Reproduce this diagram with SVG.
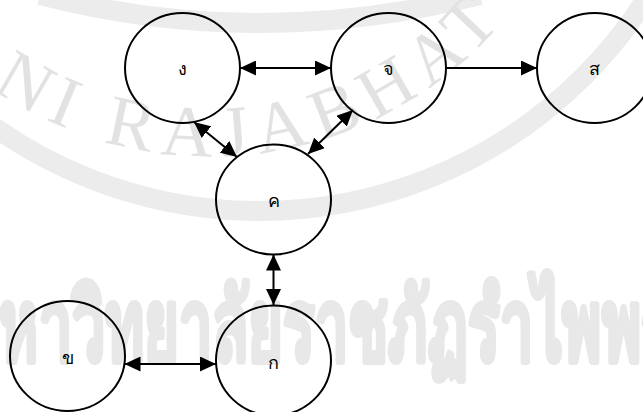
<svg xmlns="http://www.w3.org/2000/svg" width="643" height="412" viewBox="0 0 643 412">
  <style>
    .node { fill: none; stroke: #000; stroke-width: 2; }
    .lbl { font-family: "Noto Sans", "DejaVu Sans", sans-serif; font-size: 18px; fill: #000; text-anchor: middle; dominant-baseline: central; }
    .edge { stroke: #000; stroke-width: 2; fill: none; }
    .wm-band { fill: none; stroke: #ececec; stroke-width: 20; }
    .wm-serif { font-family: "Liberation Serif", serif; font-size: 72px; fill: #e2e2e2; letter-spacing: 10px; }
    .wm-thai { font-family: "Noto Sans", "DejaVu Sans", sans-serif; font-size: 98px; font-weight: bold; fill: #e8e8e8; stroke: #e8e8e8; stroke-width: 5; stroke-linejoin: round; }
  </style>
  <defs>
    <marker id="arrow" markerUnits="userSpaceOnUse" markerWidth="16" markerHeight="15" refX="16" refY="7.5" orient="auto-start-reverse">
      <path d="M0,0 L16,7.5 L0,15 Z" fill="#000"/>
    </marker>
    <path id="wmArc" d="M -40 64 A 385 385 0 0 0 590 -166"/>
  </defs>
  <rect width="643" height="412" fill="#fff"/>
  <g id="watermark">
    <circle class="wm-band" cx="259" cy="-248" r="459"/>
    <path class="wm-band" d="M 40 -5 Q 258 51 480 -5"/>
    <text class="wm-serif"><textPath href="#wmArc" startOffset="40">NI RAJABHAT</textPath></text>
    <text class="wm-thai" x="-40" y="360" textLength="800" lengthAdjust="spacingAndGlyphs">มหาวิทยาลัยราชภัฏรำไพพรรณี</text>
  </g>
  <g id="connectors">
    <line class="edge" x1="240" y1="68" x2="331" y2="68" marker-start="url(#arrow)" marker-end="url(#arrow)"/>
    <line class="edge" x1="446" y1="68" x2="537" y2="68" marker-end="url(#arrow)"/>
    <line class="edge" x1="194" y1="122" x2="237" y2="157" marker-start="url(#arrow)" marker-end="url(#arrow)"/>
    <line class="edge" x1="353" y1="110" x2="308" y2="154" marker-start="url(#arrow)" marker-end="url(#arrow)"/>
    <line class="edge" x1="273.5" y1="254.5" x2="273.5" y2="305" marker-start="url(#arrow)" marker-end="url(#arrow)"/>
    <line class="edge" x1="124.5" y1="364" x2="216" y2="364" marker-start="url(#arrow)" marker-end="url(#arrow)"/>
  </g>
  <g id="node-ng">
    <ellipse class="node" cx="182.5" cy="68" rx="57.5" ry="55"/>
    <text class="lbl" x="182" y="68">ง</text>
  </g>
  <g id="node-cho">
    <ellipse class="node" cx="388.5" cy="68" rx="57.5" ry="55"/>
    <text class="lbl" x="388" y="68">จ</text>
  </g>
  <g id="node-so">
    <ellipse class="node" cx="594.5" cy="68" rx="57.5" ry="55"/>
    <text class="lbl" x="594" y="68">ส</text>
  </g>
  <g id="node-kho-khwai">
    <ellipse class="node" cx="273.5" cy="199.5" rx="57.5" ry="55"/>
    <text class="lbl" x="274" y="200">ค</text>
  </g>
  <g id="node-kho-khai">
    <ellipse class="node" cx="67.5" cy="356" rx="57.5" ry="55"/>
    <text class="lbl" x="68" y="357">ข</text>
  </g>
  <g id="node-ko">
    <ellipse class="node" cx="273.5" cy="360.5" rx="57.5" ry="55"/>
    <text class="lbl" x="273" y="362">ก</text>
  </g>
</svg>
